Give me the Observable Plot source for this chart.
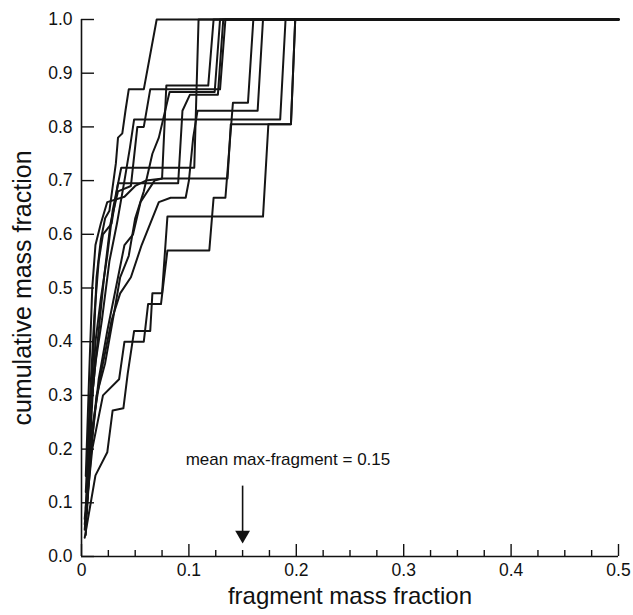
<!DOCTYPE html>
<html>
<head>
<meta charset="utf-8">
<script src="https://cdn.jsdelivr.net/npm/d3@7"></script>
<script src="https://cdn.jsdelivr.net/npm/@observablehq/plot@0.6"></script>
<style>
  html, body { margin: 0; padding: 0; background: #fff; }
  #chart svg { display: block; font-family: "Liberation Sans", Arial, sans-serif; }
</style>
</head>
<body>
<div id="chart"></div>
<script>
// ---- data (fragment mass fraction, cumulative mass fraction) per simulation run ----
const run1 = [[0.004,0.04],[0.007,0.20],[0.011,0.38],[0.014,0.52],[0.018,0.59],[0.022,0.63],[0.026,0.644],[0.032,0.732],[0.034,0.780],[0.038,0.788],[0.041,0.831],[0.044,0.870],[0.058,0.870],[0.070,1.0],[0.5,1.0]];
const run2 = [[0.005,0.08],[0.009,0.25],[0.013,0.40],[0.018,0.48],[0.024,0.56],[0.029,0.644],[0.037,0.724],[0.105,0.724],[0.109,1.0],[0.5,1.0]];
const run3 = [[0.004,0.06],[0.010,0.22],[0.016,0.33],[0.024,0.42],[0.032,0.50],[0.040,0.58],[0.048,0.60],[0.055,0.66],[0.068,0.70],[0.075,0.704],[0.079,0.877],[0.118,0.877],[0.123,1.0],[0.5,1.0]];
const run4 = [[0.005,0.10],[0.009,0.28],[0.015,0.40],[0.021,0.52],[0.027,0.62],[0.034,0.68],[0.046,0.69],[0.052,0.80],[0.058,0.80],[0.064,0.870],[0.129,0.870],[0.134,1.0],[0.5,1.0]];
const run5 = [[0.003,0.05],[0.008,0.18],[0.014,0.30],[0.022,0.36],[0.030,0.45],[0.036,0.52],[0.044,0.56],[0.050,0.63],[0.058,0.68],[0.066,0.75],[0.072,0.78],[0.082,0.865],[0.124,0.865],[0.129,1.0],[0.5,1.0]];
const run6 = [[0.004,0.12],[0.008,0.30],[0.012,0.45],[0.016,0.55],[0.020,0.60],[0.028,0.62],[0.034,0.695],[0.090,0.695],[0.094,0.83],[0.101,0.86],[0.127,0.86],[0.132,1.0],[0.5,1.0]];
const run7 = [[0.003,0.035],[0.013,0.151],[0.024,0.194],[0.029,0.272],[0.039,0.276],[0.043,0.34],[0.049,0.42],[0.064,0.42],[0.066,0.49],[0.075,0.49],[0.080,0.633],[0.169,0.633],[0.174,0.805],[0.195,0.805],[0.199,1.0],[0.5,1.0]];
const run8 = [[0.003,0.06],[0.010,0.20],[0.020,0.30],[0.035,0.33],[0.040,0.40],[0.058,0.40],[0.062,0.47],[0.074,0.47],[0.080,0.57],[0.119,0.57],[0.123,0.668],[0.134,0.668],[0.141,0.845],[0.155,0.845],[0.160,1.0],[0.5,1.0]];
const run9 = [[0.003,0.07],[0.010,0.24],[0.018,0.34],[0.028,0.44],[0.036,0.49],[0.046,0.52],[0.056,0.58],[0.064,0.62],[0.072,0.66],[0.083,0.668],[0.097,0.668],[0.100,0.70],[0.104,0.78],[0.108,0.83],[0.164,0.83],[0.169,1.0],[0.5,1.0]];
const run10 = [[0.004,0.09],[0.008,0.26],[0.013,0.36],[0.019,0.44],[0.026,0.55],[0.033,0.62],[0.040,0.70],[0.045,0.76],[0.049,0.814],[0.185,0.814],[0.190,1.0],[0.5,1.0]];
const run11 = [[0.004,0.15],[0.007,0.33],[0.010,0.50],[0.013,0.58],[0.018,0.62],[0.024,0.66],[0.040,0.67],[0.050,0.69],[0.060,0.70],[0.076,0.704],[0.136,0.704],[0.139,0.805],[0.195,0.805],[0.199,1.0],[0.5,1.0]];
const runs = [run1, run2, run3, run4, run5, run6, run7, run8, run9, run10, run11];

const xMajorTicks = [0, 0.1, 0.2, 0.3, 0.4, 0.5];
const xMinorTicks = d3.range(0, 0.5001, 0.025).filter(v => Math.abs(v * 10 - Math.round(v * 10)) > 1e-6);
const yTicks = [0, 0.1, 0.2, 0.3, 0.4, 0.5, 0.6, 0.7, 0.8, 0.9, 1.0];
const xLabel = "fragment mass fraction";
const yLabel = "cumulative mass fraction";
const annotationText = "mean max-fragment = 0.15";
const meanMaxFragment = 0.15;
const annotationTextX = 0.097;
const annotationTextY = 0.17;
const arrowShaft = [0.132, 0.045];
const arrowHeadY = 0.040;

const table = runs.flatMap((r, i) => r.map(([x, y]) => ({run: i, x, y})));

const plot = Plot.plot({
  width: 633,
  height: 615,
  marginLeft: 81,
  marginRight: 15,
  marginTop: 19,
  marginBottom: 59,
  x: {domain: [0, 0.5]},
  y: {domain: [0, 1]},
  style: {fontFamily: "Liberation Sans, Arial, sans-serif", fontSize: "17px", color: "#111"},
  marks: [
    Plot.line(table, {x: "x", y: "y", z: "run", stroke: "#151515", strokeWidth: 2}),
    Plot.ruleX([0], {stroke: "#111", strokeWidth: 1.6}),
    Plot.ruleY([0], {stroke: "#111", strokeWidth: 1.6}),
    Plot.axisX(xMinorTicks, {tickSize: -6, text: null, strokeWidth: 1.4, label: null}),
    Plot.axisX(xMajorTicks, {tickSize: -12, tickPadding: 19, strokeWidth: 1.4, label: null,
      tickFormat: d => d === 0 ? "0" : d3.format(".1f")(d), fontSize: 17.5}),
    Plot.axisY(yTicks, {tickSize: -13, tickPadding: 22, strokeWidth: 1.4, label: null,
      tickFormat: d3.format(".1f"), fontSize: 17.5}),
    Plot.text([xLabel], {frameAnchor: "bottom", dy: 47, fontSize: 24, fill: "#111"}),
    Plot.text([yLabel], {frameAnchor: "left", textAnchor: "middle", dx: -59, rotate: -90, fontSize: 25, fill: "#111"}),
    Plot.text([annotationText], {x: annotationTextX, y: annotationTextY, textAnchor: "start", lineAnchor: "bottom", fontSize: 17, fill: "#111"}),
    Plot.link([arrowShaft], {x1: meanMaxFragment, x2: meanMaxFragment, y1: d => d[0], y2: d => d[1], stroke: "#111", strokeWidth: 1.6}),
    Plot.dot([meanMaxFragment], {x: d => d, y: arrowHeadY, symbol: "triangle", r: 5.5, rotate: 180, fill: "#111", stroke: "none"})
  ]
});
document.getElementById("chart").appendChild(plot);
</script>
</body>
</html>
